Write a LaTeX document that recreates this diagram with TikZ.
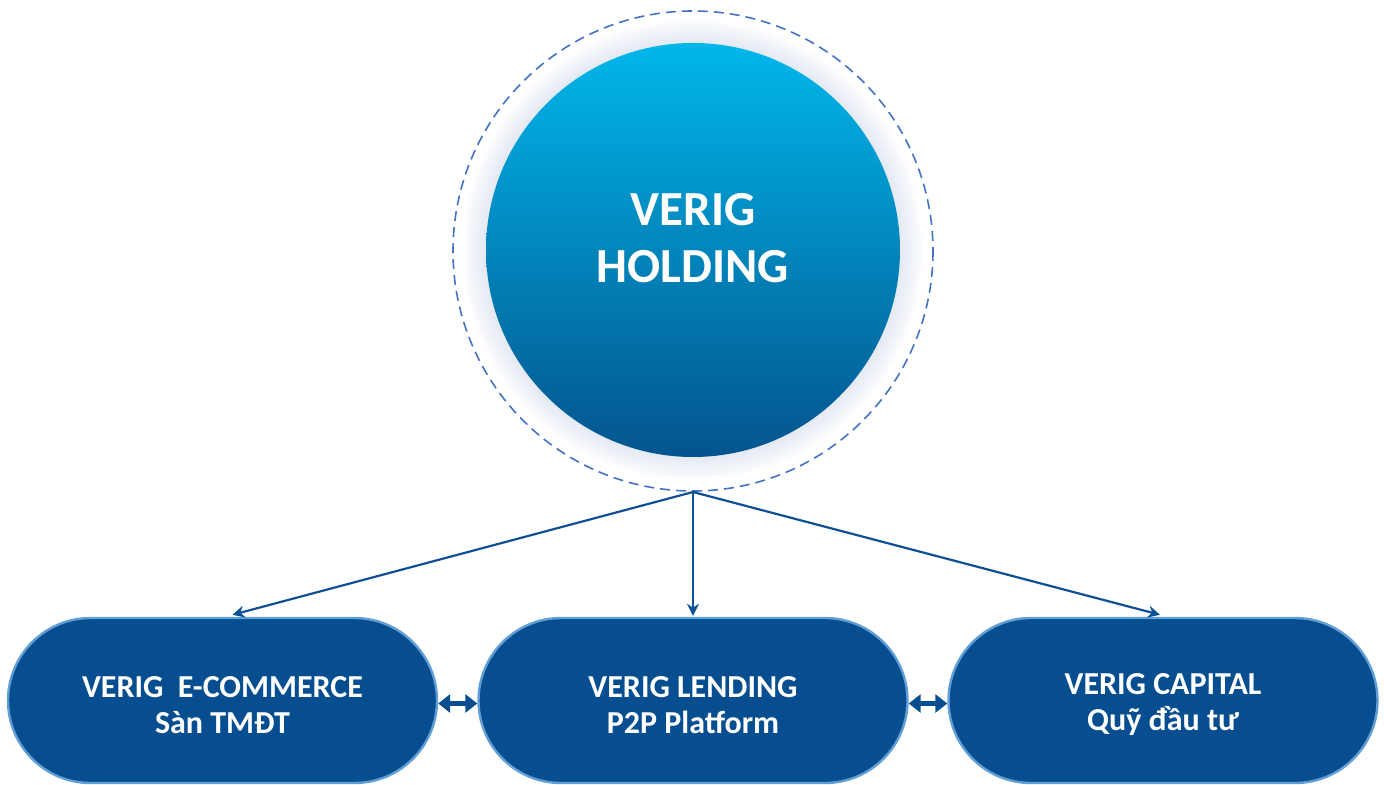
\documentclass[tikz,border=0pt]{standalone}
\usepackage{fontspec}
\setmainfont{Carlito}
\usetikzlibrary{arrows.meta,calc}
\definecolor{boxfill}{RGB}{6,78,143}
\definecolor{boxline}{RGB}{98,158,214}
\definecolor{conncol}{RGB}{14,80,150}
\definecolor{dashcol}{RGB}{68,114,196}
\definecolor{topcyan}{RGB}{0,183,234}
\definecolor{botblue}{RGB}{4,84,142}
\definecolor{glowcol}{RGB}{190,202,225}
\tikzset{
  unit/.style={draw=boxline, line width=1.2pt, fill=boxfill, rounded corners=41.25pt,
    minimum width=214.5pt, minimum height=82.5pt, text=white, align=center,
    font=\bfseries\fontsize{16}{18}\selectfont},
  conn/.style={draw=conncol, line width=1.1pt, -{Stealth[length=6pt,width=6pt]}},
  link/.style={draw=boxfill, line width=2.5pt, {Triangle[length=6pt,width=9pt]}-{Triangle[length=6pt,width=9pt]}},
}
\begin{document}
\begin{tikzpicture}[x=0.5pt,y=-0.5pt]
\useasboundingbox (0,0) rectangle (1384,785);
% glow
\foreach \r in {230,228,...,207}{
  \fill[glowcol,opacity=0.045] (693,250) circle (\r);
}
\shade[top color=topcyan, bottom color=botblue] (693,250) circle (207);
\node (hold) at (693,238) [circle, minimum size=207pt, text=white, align=center,
  font=\bfseries\fontsize{24.5}{28.5}\selectfont] {VERIG\\HOLDING};
\draw[dashcol, line width=0.8pt, dash pattern=on 5pt off 3pt] (693,251) circle (240);
\coordinate (apex) at (693,492);
% units
\node[unit] (ecom) at (222.5,700.5) {};
\node[unit] (lend) at (693,700.5) {};
\node[unit] (cap) at (1163,700.5) {};
\node[text=white, align=center, font=\bfseries\fontsize{16}{18}\selectfont] at (222.5,705) {VERIG\ \ E-COMMERCE\\Sàn TMĐT};
\node[text=white, align=center, font=\bfseries\fontsize{16}{18}\selectfont] at (693,705) {VERIG LENDING\\P2P Platform};
\node[text=white, align=center, font=\bfseries\fontsize{16}{18}\selectfont] at (1163,705) {VERIG CAPITAL\\Quỹ đầu tư};
% connectors
\coordinate (ecomin) at ($(ecom.north)+(10,-2)$);
\coordinate (lendin) at ($(lend.north)+(0,-1)$);
\coordinate (capin) at ($(cap.north)+(-3,-2)$);
\draw[conn] (apex) -- (ecomin);
\draw[conn] (apex) -- (lendin);
\draw[conn] (apex) -- (capin);
\draw[link] ($(ecom.east)+(0,3)$) -- ($(lend.west)+(0,3)$);
\draw[link] ($(lend.east)+(0,3)$) -- ($(cap.west)+(0,3)$);
\end{tikzpicture}
\end{document}
